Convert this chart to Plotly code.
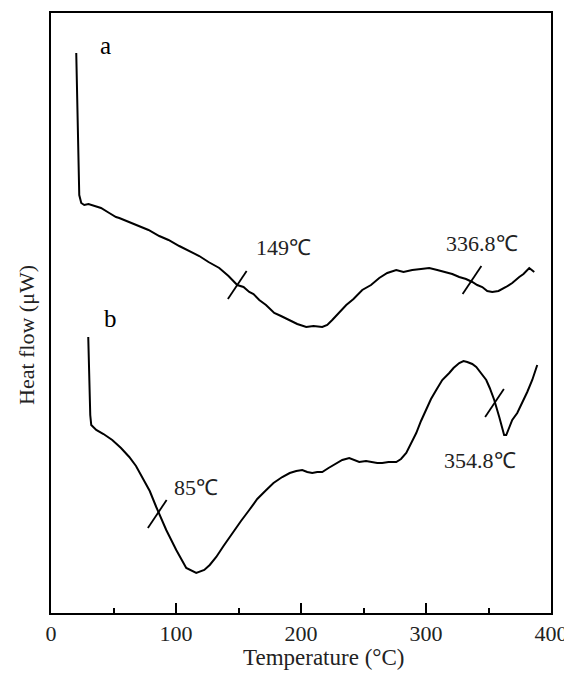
import plotly.graph_objects as go

# Curve a (temperature °C, heat flow arbitrary units)
temp_a = [20.2, 21.0, 21.8, 22.6, 24.2, 26.6, 30.0, 34.6, 40.0, 46.6, 52.0, 54.6, 62.0, 70.6, 78.0, 86.6, 94.0,
          102.6, 110.0, 118.6, 126.0, 134.6, 142.0, 149.0, 154.0, 158.6, 162.0, 166.6, 172.0, 178.6, 184.0,
          190.6, 197.0, 204.2, 210.0, 217.0, 221.0, 225.0, 230.0, 236.2, 242.0, 249.0, 256.0, 262.6, 269.0,
          276.2, 282.0, 289.0, 296.0, 302.6, 309.0, 316.2, 321.0, 326.6, 332.0, 337.0, 341.0, 345.0, 349.0,
          353.0, 358.0, 364.0, 369.0, 374.6, 378.0, 382.6, 386.6]
heat_a = [560, 513, 443, 418, 410, 408, 409, 407, 405, 400, 396, 395, 391, 387, 383, 377, 373,
          367, 362, 357, 351, 345, 337, 328, 326, 321, 319, 313, 308, 300, 297,
          293, 289, 286, 287, 286, 288, 293, 300, 308, 314, 323, 328, 335, 340,
          343, 341, 343, 344, 345, 343, 341, 339, 336, 334, 331, 328, 326, 322,
          321, 322, 326, 330, 336, 339, 345, 341]

# Curve b
temp_b = [29.8, 30.6, 31.4, 32.2, 36.2, 42.0, 49.0, 56.0, 62.6, 68.0, 73.0, 79.0, 84.2, 92.2, 100.2, 108.2,
          116.2, 122.6, 127.0, 132.2, 138.0, 145.0, 152.0, 158.6, 165.0, 172.2, 178.0, 185.0, 191.0, 196.2,
          201.0, 205.0, 209.0, 213.0, 217.0, 222.0, 228.2, 233.0, 238.6, 242.0, 246.6, 252.0, 257.0, 261.0,
          265.0, 270.0, 276.2, 280.0, 284.2, 288.0, 292.2, 296.0, 300.2, 304.0, 308.2, 313.0, 318.6, 322.0,
          326.6, 330.0, 333.0, 337.0, 340.2, 344.0, 348.2, 351.0, 354.6, 358.6, 361.0, 362.5, 364.2, 366.5,
          369.0, 373.0, 377.0, 381.0, 385.0, 389.0]
heat_b = [276, 233, 198, 188, 183, 179, 173, 165, 156, 147, 136, 122, 106, 83, 63, 45,
          40, 43, 48, 56, 67, 80, 92, 103, 114, 123, 130, 136, 140, 142,
          143, 141, 140, 141, 141, 145, 150, 153, 155, 153, 151, 152, 151, 150,
          150, 151, 151, 154, 160, 169, 180, 192, 203, 214, 223, 233, 240, 245,
          250, 252, 251, 249, 246, 240, 233, 225, 213, 196, 183, 178, 178, 185,
          193, 200, 210, 221, 233, 248]

# Marked points (temperature, heat flow at mark) and their labels
mark_temp = [149.0, 336.8, 85.0, 354.8]
mark_heat = [328, 333, 99, 210]
mark_text = ["149℃", "336.8℃", "85℃", "354.8℃"]
label_temp = [186, 345, 116, 343.5]
label_heat = [366, 370, 126, 153]

curve_names = ["a", "b"]
curve_label_temp = [43.5, 47.5]
curve_label_heat = [568, 295]

x_ticks = [0, 100, 200, 300, 400]
x_title = "Temperature (°C)"
y_title = "Heat flow (μW)"

FONT = "Liberation Serif, Times New Roman, serif"

fig = go.Figure()
fig.add_trace(go.Scatter(x=temp_a, y=heat_a, mode="lines",
                         line=dict(color="black", width=2), showlegend=False))
fig.add_trace(go.Scatter(x=temp_b, y=heat_b, mode="lines",
                         line=dict(color="black", width=2), showlegend=False))

# short slanted marker segments
dx, dy = 7.5, 14
for t, h in zip(mark_temp, mark_heat):
    fig.add_shape(type="line", x0=t - dx, y0=h - dy, x1=t + dx, y1=h + dy,
                  line=dict(color="black", width=1.8))

font_ann = dict(family=FONT, size=22, color="#222")
for t, h, txt in zip(label_temp, label_heat, mark_text):
    fig.add_annotation(x=t, y=h, text=txt, showarrow=False, font=font_ann)
for t, h, txt in zip(curve_label_temp, curve_label_heat, curve_names):
    fig.add_annotation(x=t, y=h, text=txt, showarrow=False,
                       font=dict(family=FONT, size=25, color="black"))

# axis titles (placed like the reference, slightly off-centre)
fig.add_annotation(x=218, xref="x", y=0, yref="paper", yanchor="middle", yshift=-44,
                   text=x_title, showarrow=False, font=dict(family=FONT, size=23, color="#222"))
fig.add_annotation(x=0, xref="paper", xanchor="center", xshift=-25, y=278, yref="y",
                   text=y_title, textangle=-90, showarrow=False,
                   font=dict(family=FONT, size=22, color="#222"))

fig.update_layout(
    width=562, height=663,
    margin=dict(l=43, r=19, t=5, b=58),
    paper_bgcolor="white", plot_bgcolor="white",
    font=dict(family=FONT, size=22, color="#222"),
    xaxis=dict(range=[0, 400], tickvals=x_ticks, ticktext=[str(v) for v in x_ticks],
               ticks="inside", ticklen=10, tickwidth=2, tickcolor="black",
               minor=dict(dtick=50, ticks="inside", ticklen=5, tickwidth=2, tickcolor="black"),
               showline=True, linewidth=2, linecolor="black", mirror=True,
               showgrid=False, zeroline=False, automargin=False,
               tickfont=dict(size=22)),
    yaxis=dict(range=[0, 600], showticklabels=False, ticks="",
               showline=True, linewidth=2, linecolor="black", mirror=True,
               showgrid=False, zeroline=False, automargin=False),
)

fig.write_html("out.html")
